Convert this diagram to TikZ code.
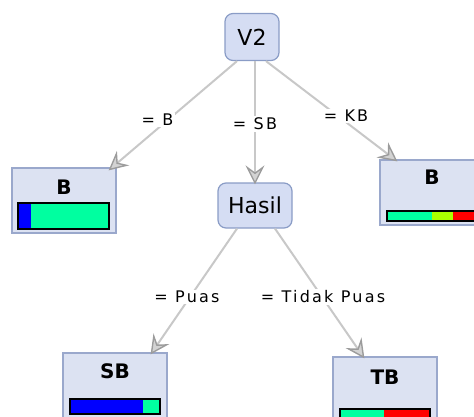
\documentclass[tikz,border=0pt]{standalone}
\usepackage{fontspec}
\setmainfont{DejaVu Sans}
\newfontfamily\lblfont[LetterSpace=14]{DejaVu Sans}
\usetikzlibrary{arrows.meta}
\definecolor{nodefill}{HTML}{D5DDF3}
\definecolor{nodeedge}{HTML}{8A9CC6}
\definecolor{leaffill}{HTML}{DCE2F2}
\definecolor{leafedge}{HTML}{9AA8CC}
\definecolor{edgegray}{HTML}{C8C8C8}
\definecolor{tipgray}{HTML}{9C9C9C}
\definecolor{barblue}{HTML}{0000FF}
\definecolor{bargreen}{HTML}{00FFA0}
\definecolor{baryellow}{HTML}{AAFF00}
\definecolor{barred}{HTML}{FF0000}
\begin{document}
\begin{tikzpicture}[x=1pt,y=-1pt,
  innode/.style={draw=nodeedge, fill=nodefill, rounded corners=8pt, line width=1.2pt,
    font=\fontsize{22}{25}\selectfont, inner sep=0pt},
  leaf/.style={draw=leafedge, fill=leaffill, line width=1.2pt, inner sep=0pt},
  leaftitle/.style={font=\fontsize{20}{23}\selectfont\bfseries, inner sep=0pt},
  edge/.style={draw=edgegray, line width=2pt,
    -{Stealth[length=19pt,width=19pt,inset=7pt,color=tipgray,fill=edgegray!80!white,line width=1.4pt]}},
  lbl/.style={fill=white, inner sep=1.5pt, font=\lblfont\fontsize{16}{19}\selectfont}]
\useasboundingbox (0,0) rectangle (474,416);
\clip (0,0) rectangle (474,416);
% internal nodes
\node[innode, minimum width=54pt, minimum height=47pt] (v2) at (252,37) {V2};
\node[innode, minimum width=74pt, minimum height=45pt] (hasil) at (255,205.5) {Hasil};
% leaves
\node[leaf, minimum width=104pt, minimum height=65pt] (bL) at (64,200.5) {};
\node[leaf, minimum width=104pt, minimum height=65pt] (bR) at (432,192.5) {};
\node[leaf, minimum width=104pt, minimum height=65pt] (sb) at (115,385.5) {};
\node[leaf, minimum width=104pt, minimum height=65pt] (tb) at (385,389.5) {};
\node[leaftitle] (tbL) at (64,187) {B};
\node[leaftitle] (tbR) at (432,177) {B};
\node[leaftitle] (tsb) at (115,371) {SB};
\node[leaftitle] (ttb) at (385,377) {TB};
% bars
\fill[barblue] (18,203) rectangle (31,229);
\fill[bargreen] (31,203) rectangle (109,229);
\draw[line width=1.2pt] (18,203) rectangle (109,229);
\fill[bargreen] (387,211) rectangle (432,221);
\fill[baryellow] (432,211) rectangle (453,221);
\fill[barred] (453,211) rectangle (477,221);
\draw[line width=1.2pt] (387,211) rectangle (477,221);
\fill[barblue] (70,399) rectangle (143,414);
\fill[bargreen] (143,399) rectangle (160,414);
\draw[line width=1.2pt] (70,399) rectangle (160,414);
\fill[bargreen] (340,409) rectangle (384,422);
\fill[barred] (384,409) rectangle (430,422);
\draw[line width=1.2pt] (340,409) rectangle (430,422);
% edges
\draw[edge] ([xshift=-15pt]v2.south) -- ([xshift=-8pt,yshift=-3pt]bL.north east);
\draw[edge] ([xshift=3pt]v2.south) -- ([yshift=-2pt]hasil.north);
\draw[edge] ([xshift=14pt]v2.south) -- ([xshift=18pt,yshift=-2pt]bR.north west);
\draw[edge] ([xshift=-18pt]hasil.south) -- ([xshift=-17pt,yshift=-2pt]sb.north east);
\draw[edge] ([xshift=20pt]hasil.south) -- ([xshift=32pt,yshift=-2pt]tb.north west);
% edge labels
\node[lbl] (l1) at (157.5,120) {= B};
\node[lbl] (l2) at (255,124) {= SB};
\node[lbl] (l3) at (346,116) {= KB};
\node[lbl] (l4) at (187,297) {= Puas};
\node[lbl] (l5) at (323,297) {= Tidak Puas};
\end{tikzpicture}
\end{document}
